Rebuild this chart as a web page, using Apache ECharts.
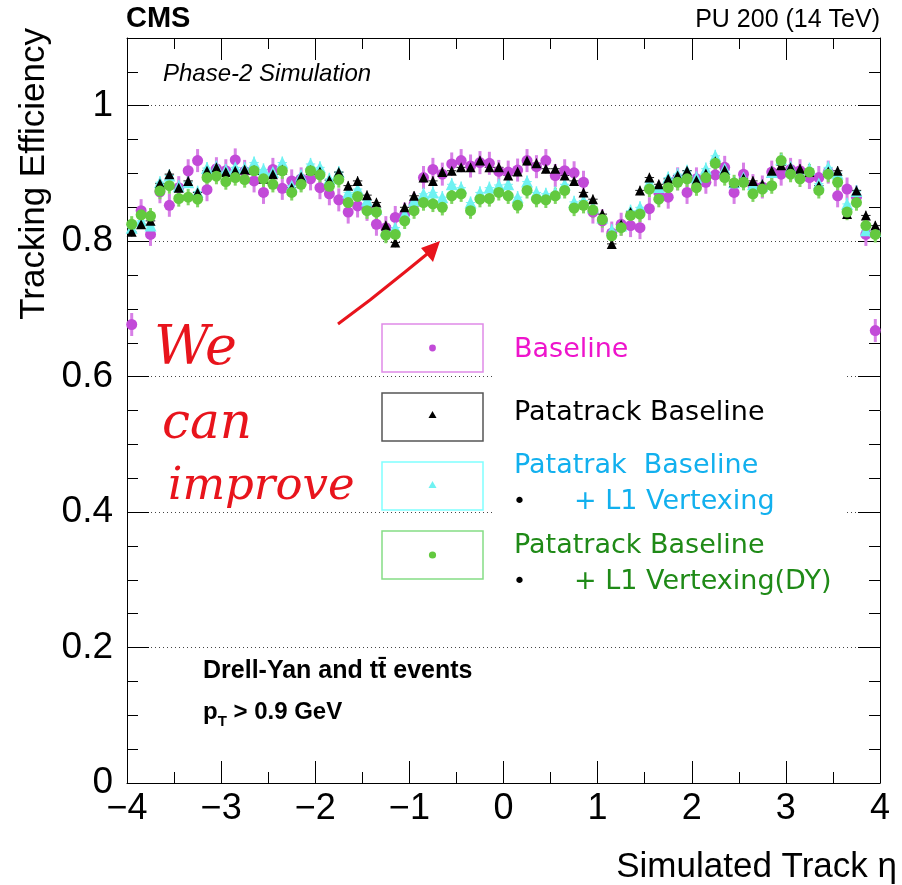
<!DOCTYPE html>
<html><head><meta charset="utf-8">
<script src="https://cdn.jsdelivr.net/npm/echarts@6/dist/echarts.min.js"></script>
<style>html,body{margin:0;padding:0;background:#fff}#c{width:902px;height:885px}</style>
</head><body><div id="c"></div>
<script>
// ---- data (efficiency per eta bin, bin width 0.1 from -4 to 4) ----
const etaMin = -4;
const binWidth = 0.1;
const xTickLabels = ['\u22124','\u22123','\u22122','\u22121','0','1','2','3','4'];
const yTickLabels = ['0','0.2','0.4','0.6','0.8','1'];

const baseline = [0.677,0.845,0.810,0.873,0.853,0.879,0.904,0.919,0.876,0.907,
  0.904,0.920,0.903,0.889,0.872,0.906,0.878,0.889,0.892,0.892,
  0.879,0.870,0.861,0.843,0.852,0.847,0.825,0.820,0.835,0.840,
  0.855,0.894,0.906,0.899,0.914,0.919,0.911,0.916,0.915,0.903,
  0.902,0.905,0.919,0.910,0.919,0.897,0.904,0.901,0.887,0.843,
  0.830,0.812,0.825,0.823,0.820,0.848,0.872,0.865,0.892,0.872,
  0.892,0.887,0.898,0.909,0.872,0.899,0.882,0.880,0.902,0.899,
  0.906,0.904,0.894,0.894,0.902,0.867,0.877,0.865,0.810,0.668];
const patatrack = [0.814,0.825,0.830,0.885,0.899,0.879,0.889,0.872,0.904,0.909,
  0.902,0.904,0.906,0.905,0.892,0.899,0.906,0.879,0.895,0.905,
  0.903,0.890,0.902,0.882,0.889,0.868,0.857,0.823,0.798,0.850,
  0.867,0.894,0.889,0.902,0.904,0.909,0.909,0.919,0.909,0.909,
  0.897,0.903,0.919,0.915,0.907,0.907,0.897,0.889,0.872,0.862,
  0.840,0.796,0.825,0.843,0.875,0.894,0.884,0.892,0.897,0.904,
  0.890,0.900,0.918,0.905,0.887,0.893,0.889,0.884,0.904,0.912,
  0.909,0.907,0.902,0.882,0.903,0.904,0.840,0.875,0.838,0.823];
const patatrackL1 = [0.820,0.830,0.823,0.887,0.897,0.881,0.887,0.873,0.908,0.910,
  0.905,0.909,0.908,0.916,0.906,0.902,0.916,0.882,0.897,0.914,
  0.909,0.892,0.902,0.872,0.877,0.860,0.848,0.816,0.820,0.840,
  0.860,0.870,0.872,0.865,0.884,0.879,0.857,0.872,0.879,0.883,
  0.884,0.865,0.888,0.872,0.870,0.872,0.884,0.858,0.860,0.850,
  0.835,0.816,0.823,0.845,0.850,0.887,0.880,0.894,0.899,0.904,
  0.894,0.907,0.926,0.907,0.887,0.894,0.884,0.882,0.902,0.921,
  0.909,0.900,0.907,0.885,0.909,0.900,0.855,0.874,0.816,0.815];
const patatrackL1DY = [0.825,0.839,0.837,0.874,0.882,0.863,0.865,0.862,0.894,0.896,
  0.888,0.894,0.891,0.904,0.892,0.884,0.904,0.872,0.884,0.904,
  0.898,0.881,0.891,0.857,0.866,0.845,0.843,0.809,0.810,0.830,
  0.845,0.857,0.855,0.850,0.867,0.870,0.845,0.862,0.863,0.872,
  0.867,0.853,0.875,0.862,0.861,0.867,0.875,0.849,0.853,0.846,
  0.832,0.808,0.820,0.838,0.840,0.877,0.862,0.879,0.887,0.892,
  0.879,0.894,0.915,0.894,0.886,0.887,0.870,0.877,0.882,0.919,
  0.899,0.892,0.902,0.875,0.899,0.887,0.843,0.857,0.823,0.810];
const errBaseline = 0.017, errPatatrack = 0.007, errL1 = 0.009, errDY = 0.012;

// ---- build ----
function pts(vals){ return vals.map((v,i)=>[etaMin + binWidth*(i+0.5), v]); }
function errSeries(vals, err, color, w){
  return {
    type:'custom', silent:true, clip:false,
    data: pts(vals).map(p=>[p[0], p[1], err]),
    renderItem:function(params, api){
      const x = api.value(0), y = api.value(1), e = api.value(2);
      const top = api.coord([x, y+e]), bot = api.coord([x, y-e]);
      const l = api.coord([x-binWidth/2, y]), r = api.coord([x+binWidth/2, y]);
      return {type:'group', children:[
        {type:'line', shape:{x1:top[0],y1:top[1],x2:bot[0],y2:bot[1]}, style:{stroke:color, lineWidth:w}},
        {type:'line', shape:{x1:l[0],y1:l[1],x2:r[0],y2:r[1]}, style:{stroke:color, lineWidth:1}}
      ]};
    }
  };
}
function ptSeries(name, vals, symbol, size, color){
  return {name:name, type:'scatter', data:pts(vals), symbol:symbol, symbolSize:size,
    itemStyle:{color:color, opacity:1}, emphasis:{disabled:true}};
}

const cMag='#c24ad8', cMagErr='#d77fe6', cBlk='#000000', cCyan='#6ff2f2', cGrn='#63c93f', cGrnErr='#7fd560';
const FONT='"Liberation Sans", Arial, Helvetica, sans-serif';
const LFONT='"DejaVu Sans", sans-serif';

const axisCommon = {
  axisLine:{show:true, onZero:false, lineStyle:{color:'#000', width:1}},
  axisTick:{show:true, inside:true, length:22, lineStyle:{color:'#000', width:1}}
};

const chart = echarts.init(document.getElementById('c'), null, {renderer:'canvas'});
chart.setOption({
  animation:false,
  backgroundColor:'#fff',
  grid:{left:127, right:22, top:38, bottom:102, containLabel:false},
  xAxis:[
    Object.assign({type:'value', min:-4, max:4, interval:1, position:'bottom',
      minorTick:{show:true, splitNumber:2, length:11, lineStyle:{color:'#000'}},
      axisLabel:{fontFamily:FONT, fontSize:36, color:'#000', margin:8,
        formatter:v=>xTickLabels[Math.round(v)+4]},
      splitLine:{show:false}}, axisCommon),
    Object.assign({type:'value', min:-4, max:4, interval:1, position:'top',
      minorTick:{show:true, splitNumber:2, length:11, lineStyle:{color:'#000'}},
      axisLabel:{show:false}, splitLine:{show:false}}, axisCommon)
  ],
  yAxis:[
    Object.assign({type:'value', min:0, max:1.1, interval:0.2, position:'left',
      minorTick:{show:true, splitNumber:4, length:11, lineStyle:{color:'#000'}},
      axisLabel:{fontFamily:FONT, fontSize:37, color:'#000', margin:14, showMaxLabel:false,
        formatter:v=>{const k=Math.round(v/0.2); return (Math.abs(v-k*0.2)<1e-6 && k<yTickLabels.length)? yTickLabels[k] : '';}},
      splitLine:{show:true, lineStyle:{color:'#444', width:1, type:[1,3]}}}, axisCommon),
    Object.assign({type:'value', min:0, max:1.1, interval:0.2, position:'right',
      minorTick:{show:true, splitNumber:4, length:11, lineStyle:{color:'#000'}},
      axisLabel:{show:false}, splitLine:{show:false}}, axisCommon)
  ],
  series:[
    errSeries(baseline, errBaseline, cMagErr, 3),
    ptSeries('Baseline', baseline, 'circle', 11, cMag),
    errSeries(patatrackL1, errL1, cCyan, 1.5),
    ptSeries('Patatrak  Baseline + L1 Vertexing', patatrackL1, 'triangle', 12, cCyan),
    errSeries(patatrack, errPatatrack, '#222', 1),
    ptSeries('Patatrack Baseline', patatrack, 'triangle', 10, cBlk),
    errSeries(patatrackL1DY, errDY, cGrnErr, 3),
    ptSeries('Patatrack Baseline + L1 Vertexing(DY)', patatrackL1DY, 'circle', 11, cGrn)
  ],
  graphic:[
    // header texts
    {type:'text', left:126, top:4, z:50, style:{text:'CMS', font:'bold 29px '+FONT, fill:'#000'}},
    {type:'text', right:22, top:8, z:50, style:{text:'PU 200 (14 TeV)', font:'25px '+FONT, fill:'#000'}},
    {type:'text', left:163, top:62, z:50, style:{text:'Phase-2 Simulation', font:'italic 24px '+FONT, fill:'#000'}},
    {type:'text', left:203, top:659, z:50, style:{text:'Drell-Yan and t\u0074\u0304 events', font:'bold 25px '+FONT, fill:'#000'}},
    {type:'text', left:203, top:700, z:50, style:{
      text:'{a|p}{b|T}{a| > 0.9 GeV}',
      rich:{a:{font:'bold 24px '+FONT, fill:'#000', verticalAlign:'top'},
            b:{font:'bold 15px '+FONT, fill:'#000', padding:[14,0,0,0]}}}},
    // axis titles
    {type:'text', x:34, y:28, rotation:Math.PI/2, z:50, style:{text:'Tracking Efficiency', font:'35px '+FONT, fill:'#000', align:'right', verticalAlign:'middle'}},
    {type:'text', x:897, y:867, z:50, style:{text:'Simulated Track \u03b7', font:'35px '+FONT, fill:'#000', align:'right', verticalAlign:'middle'}},
    // legend background
    {type:'rect', shape:{x:494, y:322, width:350, height:272}, z:40, style:{fill:'#fff'}},
    // legend boxes
    {type:'rect', shape:{x:382, y:324, width:101, height:48}, z:41, style:{fill:'#fff', stroke:'#e08be8', lineWidth:1.5}},
    {type:'circle', shape:{cx:432.5, cy:348, r:3.4}, z:42, style:{fill:cMag}},
    {type:'rect', shape:{x:382, y:393, width:101, height:48}, z:41, style:{fill:'#fff', stroke:'#555', lineWidth:1.5}},
    {type:'polygon', shape:{points:[[432.5,411],[428.5,418],[436.5,418]]}, z:42, style:{fill:'#000'}},
    {type:'rect', shape:{x:382, y:462, width:101, height:48}, z:41, style:{fill:'#fff', stroke:'#80ffff', lineWidth:1.5}},
    {type:'polygon', shape:{points:[[432.5,481],[428.5,488],[436.5,488]]}, z:42, style:{fill:cCyan}},
    {type:'rect', shape:{x:382, y:531, width:101, height:48}, z:41, style:{fill:'#fff', stroke:'#85dd85', lineWidth:1.5}},
    {type:'circle', shape:{cx:432.5, cy:555, r:3.6}, z:42, style:{fill:cGrn}},
    // legend texts
    {type:'text', x:514, y:350, z:45, style:{text:'Baseline', font:'27px '+LFONT, fill:'#ee14cc', verticalAlign:'middle'}},
    {type:'text', x:514, y:413, z:45, style:{text:'Patatrack Baseline', font:'27px '+LFONT, fill:'#000', verticalAlign:'middle'}},
    {type:'text', x:514, y:466, z:45, style:{text:'Patatrak  Baseline', font:'27px '+LFONT, fill:'#12b0ee', verticalAlign:'middle'}},
    {type:'text', x:513, y:502, z:45, style:{text:'\u2022', font:'22px '+LFONT, fill:'#000', verticalAlign:'middle'}},
    {type:'text', x:574, y:502, z:45, style:{text:'+ L1 Vertexing', font:'27px '+LFONT, fill:'#12b0ee', verticalAlign:'middle'}},
    {type:'text', x:514, y:546, z:45, style:{text:'Patatrack Baseline', font:'27px '+LFONT, fill:'#1f8a17', verticalAlign:'middle'}},
    {type:'text', x:513, y:582, z:45, style:{text:'\u2022', font:'22px '+LFONT, fill:'#000', verticalAlign:'middle'}},
    {type:'text', x:574, y:582, z:45, style:{text:'+ L1 Vertexing(DY)', font:'27px '+LFONT, fill:'#1f8a17', verticalAlign:'middle'}},
    // handwritten annotation
    {type:'text', x:154, y:350, z:60, style:{text:'We', font:'italic 54px "DejaVu Serif", serif', fill:'#e8141c', verticalAlign:'middle'}},
    {type:'text', x:162, y:425, z:60, style:{text:'can', font:'italic 50px "DejaVu Serif", serif', fill:'#e8141c', verticalAlign:'middle'}},
    {type:'text', x:168, y:487, z:60, style:{text:'improve', font:'italic 45px "DejaVu Serif", serif', fill:'#e8141c', verticalAlign:'middle'}},
    {type:'polyline', shape:{points:[[338,324],[370,300],[405,272],[432,250]]}, z:60, style:{stroke:'#e8141c', lineWidth:3, fill:null}},
    {type:'polygon', shape:{points:[[440,241],[421,248],[433,262]]}, z:60, style:{fill:'#e8141c'}}
  ]
});
</script></body></html>
